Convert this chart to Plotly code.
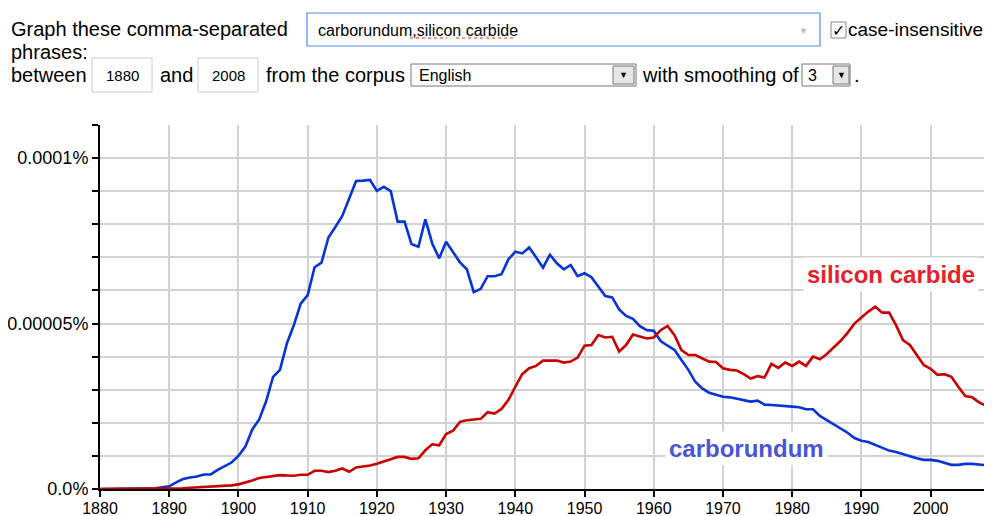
import plotly.graph_objects as go

years = list(range(1880, 2009))

# values in units of 0.00001 % (1e-5 percent)
carborundum_u = [
    0, 0, 0, 0, 0, 0, 0, 0, 0.02, 0.05,            # 1880-1889
    0.08, 0.2, 0.3, 0.35, 0.38, 0.44, 0.44, 0.58, 0.7, 0.8,   # 1890-1899
    1.0, 1.28, 1.8, 2.1, 2.65, 3.39, 3.6, 4.4, 4.95, 5.6,     # 1900-1909
    5.86, 6.7, 6.84, 7.6, 7.92, 8.25, 8.78, 9.31, 9.32, 9.34, # 1910-1919
    9.01, 9.13, 9.0, 8.08, 8.08, 7.4, 7.32, 8.15, 7.42, 6.97, # 1920-1929
    7.47, 7.14, 6.85, 6.64, 5.95, 6.05, 6.43, 6.43, 6.49, 6.94, # 1930-1939
    7.17, 7.12, 7.3, 7.0, 6.69, 7.08, 6.82, 6.64, 6.77, 6.43,   # 1940-1949
    6.52, 6.4, 6.11, 5.83, 5.79, 5.43, 5.23, 5.14, 4.92, 4.8,   # 1950-1959
    4.78, 4.47, 4.33, 4.2, 3.9, 3.6, 3.24, 3.04, 2.91, 2.84,    # 1960-1969
    2.79, 2.77, 2.73, 2.69, 2.64, 2.67, 2.55, 2.54, 2.53, 2.51, # 1970-1979
    2.49, 2.47, 2.41, 2.41, 2.21, 2.08, 1.96, 1.84, 1.70, 1.54, # 1980-1989
    1.46, 1.42, 1.33, 1.24, 1.16, 1.12, 1.05, 0.98, 0.93, 0.88, # 1990-1999
    0.88, 0.85, 0.78, 0.73, 0.73, 0.76, 0.76, 0.74, 0.72        # 2000-2008
]

silicon_carbide_u = [
    0, 0, 0, 0, 0, 0, 0, 0, 0, 0,                       # 1880-1889
    0, 0.01, 0.02, 0.04, 0.05, 0.06, 0.06, 0.08, 0.1, 0.11,   # 1890-1899
    0.14, 0.19, 0.26, 0.33, 0.36, 0.37, 0.42, 0.41, 0.4, 0.43, # 1900-1909
    0.43, 0.55, 0.55, 0.51, 0.55, 0.62, 0.52, 0.65, 0.67, 0.71, # 1910-1919
    0.76, 0.82, 0.9, 0.97, 0.97, 0.91, 0.93, 1.17, 1.35, 1.32,  # 1920-1929
    1.66, 1.76, 2.03, 2.08, 2.1, 2.12, 2.32, 2.28, 2.42, 2.69,  # 1930-1939
    3.09, 3.47, 3.65, 3.72, 3.88, 3.88, 3.88, 3.82, 3.85, 3.97, # 1940-1949
    4.33, 4.35, 4.65, 4.58, 4.6, 4.15, 4.35, 4.67, 4.62, 4.55,  # 1950-1959
    4.58, 4.8, 4.93, 4.65, 4.2, 4.05, 4.05, 3.95, 3.85, 3.84,   # 1960-1969
    3.65, 3.6, 3.58, 3.47, 3.34, 3.41, 3.37, 3.78, 3.66, 3.82,  # 1970-1979
    3.72, 3.85, 3.72, 4.0, 3.92, 4.08, 4.28, 4.48, 4.72, 5.0,   # 1980-1989
    5.18, 5.36, 5.51, 5.33, 5.33, 4.95, 4.5, 4.35, 4.05, 3.75,  # 1990-1999
    3.63, 3.45, 3.47, 3.39, 3.09, 2.81, 2.77, 2.62, 2.51        # 2000-2008
]

UNIT = 1e-5  # percent per unit
carborundum = [v * UNIT for v in carborundum_u]
silicon_carbide = [v * UNIT for v in silicon_carbide_u]

x_ticks = list(range(1880, 2001, 10))
y_ticks = [i * UNIT for i in range(0, 12)]
y_ticktext = ["0.0%", "", "", "", "", "0.00005%", "", "", "", "", "0.0001%", ""]

# page body has an 8px default margin: figure is placed at (8, 8)
OFF = 8
W, H = 992 - OFF, 516 - OFF
L, R, T, B = 100 - OFF, 6, 125 - OFF, 27
PW, PH = W - L - R, H - T - B


def px(x):
    return (x - OFF - L) / PW


def py(y):
    return (H - B - (y - OFF)) / PH


FONT = "Liberation Sans, Arial, sans-serif"

fig = go.Figure()
fig.add_trace(go.Scatter(x=years, y=carborundum, mode="lines",
                         line=dict(color="#0634d6", width=2.6), name="carborundum",
                         hoverinfo="skip"))
fig.add_trace(go.Scatter(x=years, y=silicon_carbide, mode="lines",
                         line=dict(color="#c80000", width=2.6), name="silicon carbide",
                         hoverinfo="skip"))

shapes = []
annotations = []


def text(x, y, s, size=20, color="#000", anchor="left", bold=False, bg=None):
    d = dict(x=px(x), y=py(y), xref="paper", yref="paper", text=("<b>%s</b>" % s) if bold else s,
             showarrow=False, xanchor=anchor, yanchor="middle",
             font=dict(family=FONT, size=size, color=color))
    if bg:
        d.update(bgcolor=bg, borderpad=3)
    annotations.append(d)


def rect(x0, y0, x1, y1, line="#bbbbbb", fill="white", lw=1):
    shapes.append(dict(type="rect", xref="paper", yref="paper",
                       x0=px(x0), x1=px(x1), y0=py(y1), y1=py(y0),
                       line=dict(color=line, width=lw), fillcolor=fill, layer="above"))


# form row 1
text(9, 29, "Graph these comma-separated")
rect(307, 13, 820, 46, line="#4d8ef0", lw=1.2)
text(316, 30, "carborundum,silicon carbide", size=16)
shapes.append(dict(type="line", xref="paper", yref="paper", x0=px(410), x1=px(447), y0=py(38), y1=py(38),
                   line=dict(color="#e03030", width=1, dash="dot"), layer="above"))
shapes.append(dict(type="line", xref="paper", yref="paper", x0=px(456), x1=px(515), y0=py(38), y1=py(38),
                   line=dict(color="#e03030", width=1, dash="dot"), layer="above"))
text(803, 31, "▼", size=9, color="#bbbbbb", anchor="center")
rect(831, 22, 846, 38, line="#888888")
text(838.5, 30, "✓", size=16, color="#000", anchor="center")
text(846, 29, "case-insensitive", size=19)

# form row 2
text(9, 52, "phrases:")

# form row 3
text(9, 75, "between")
rect(92, 58, 152, 92, line="#cccccc")
text(122, 75, "1880", size=15, anchor="center")
text(158, 75, "and")
rect(198, 58, 258, 92, line="#cccccc")
text(228, 75, "2008", size=15, anchor="center")
text(264, 75, "from the corpus")
rect(411, 64, 636, 86, line="#777777")
text(417, 75, "English", size=16)
rect(613, 66, 634, 84, line="#777777", fill="#e6e6e6")
text(623.5, 75, "▼", size=9, color="#000", anchor="center")
text(640, 75, "with smoothing of")
rect(802, 64, 850, 86, line="#777777")
text(806, 75, "3", size=16)
rect(833, 66, 849, 84, line="#777777", fill="#e6e6e6")
text(841, 75, "▼", size=9, color="#000", anchor="center")
text(852, 75, ".")

# series labels
text(891, 274, "silicon carbide", size=24, color="#e6202c", anchor="center", bold=True, bg="white")
text(746, 448, "carborundum", size=24, color="#4a55d6", anchor="center", bold=True, bg="white")

fig.update_layout(
    template="none",
    width=W, height=H,
    margin=dict(l=L, r=R, t=T, b=B, autoexpand=False),
    paper_bgcolor="white", plot_bgcolor="white",
    showlegend=False,
    shapes=shapes, annotations=annotations,
    font=dict(family=FONT, size=16, color="#000"),
    xaxis=dict(range=[1880, 2008], tickvals=x_ticks, ticktext=[str(v) for v in x_ticks],
               showgrid=True, gridcolor="#d2d2d2", gridwidth=1.6,
               showline=True, linecolor="#000", linewidth=2,
               ticks="outside", ticklen=6, tickwidth=2, tickcolor="#000",
               ticklabelstandoff=-2,
               tickfont=dict(family=FONT, size=16), zeroline=False, fixedrange=True,
               automargin=False),
    yaxis=dict(range=[0, 11 * UNIT], tickvals=y_ticks, ticktext=y_ticktext,
               showgrid=True, gridcolor="#d2d2d2", gridwidth=1.6,
               showline=True, linecolor="#000", linewidth=2,
               ticks="outside", ticklen=6, tickwidth=2, tickcolor="#000",
               tickfont=dict(family=FONT, size=18), zeroline=False, fixedrange=True,
               automargin=False),
)

fig.write_html("out.html", config={"displayModeBar": False})
